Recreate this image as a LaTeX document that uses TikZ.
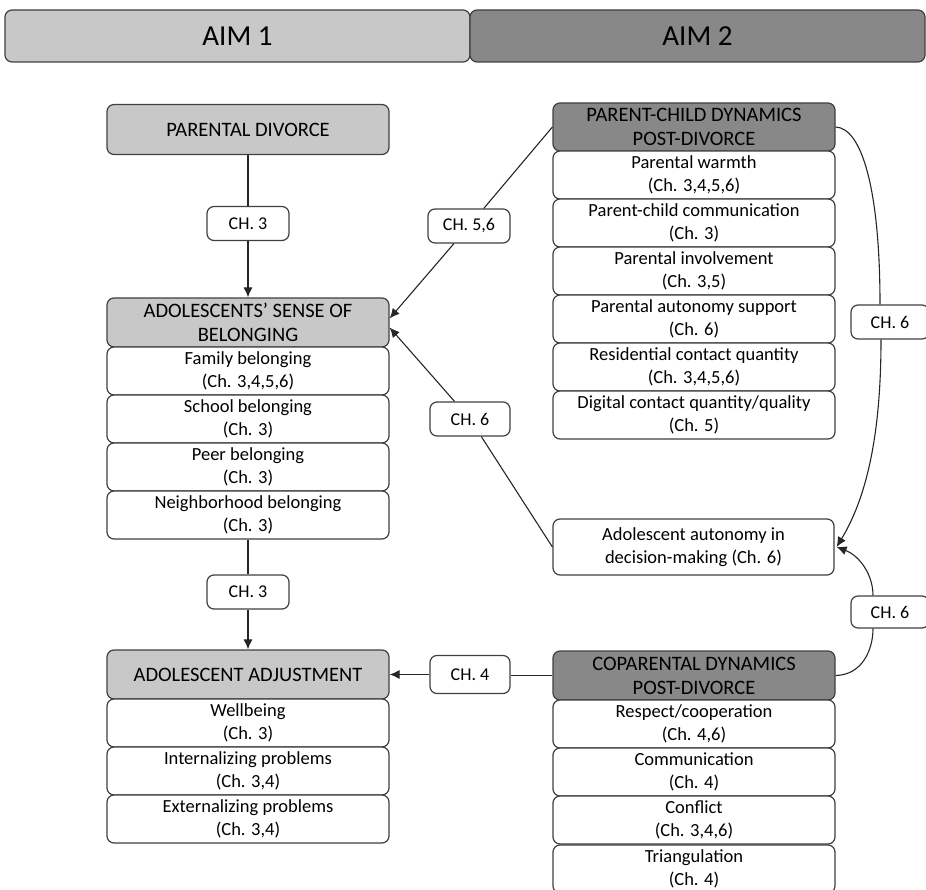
\documentclass[tikz,border=0pt]{standalone}
\usepackage{fontspec}
\setmainfont{Carlito}
\usetikzlibrary{arrows.meta}
\definecolor{boxline}{HTML}{404040}
\definecolor{aimlight}{HTML}{C8C8C8}
\definecolor{aimdark}{HTML}{888888}

\begin{document}
\begin{tikzpicture}[x=1pt, y=-1pt,
	box/.style={draw=boxline, line width=1.2pt, rounded corners=7pt, align=center, inner sep=0pt},
	aimbox/.style={box, minimum height=52pt, font=\fontsize{29}{34}\selectfont},
	headbox/.style={box, minimum width=282pt, font=\fontsize{20.5}{24}\selectfont},
	subbox/.style={box, fill=white, minimum width=282pt, minimum height=48pt, font=\fontsize{18.5}{23}\selectfont},
	chbox/.style={box, fill=white, minimum width=82pt, minimum height=34pt, font=\fontsize{18}{22}\selectfont},
	link/.style={line width=1.1pt, draw=black!85},
	arrowlink/.style={link, -{Latex[length=10pt,width=9pt]}}]
			%%%%% START %%%%%
			
			\useasboundingbox (0, 0) rectangle (926, 890);
			
			\node[aimbox, fill=aimlight, minimum width=465pt] (aim1) at (237.5, 36) {AIM 1};
			\node[aimbox, fill=aimdark, minimum width=455pt] (aim2) at (697.5, 36) {AIM 2};
			
			% aim 1 column
			\node[headbox, fill=aimlight, minimum height=50pt] (divorce) at (248, 129.5) {PARENTAL DIVORCE};
			\node[chbox] (ch3a) at (248, 223.5) {CH. 3};
			
			\node[headbox, fill=aimlight, minimum height=49pt] (belong) at (248, 322.5) {ADOLESCENTS’ SENSE OF\\BELONGING};
			\node[subbox] (famb) at (248, 371) {Family belonging\\(Ch. 3,4,5,6)};
			\node[subbox] (schb) at (248, 419) {School belonging\\(Ch. 3)};
			\node[subbox] (peerb) at (248, 467) {Peer belonging\\(Ch. 3)};
			\node[subbox] (neighb) at (248, 515) {Neighborhood belonging\\(Ch. 3)};
			\node[chbox] (ch3b) at (248, 592) {CH. 3};
			
			\node[headbox, fill=aimlight, minimum height=49pt] (adjust) at (248, 674.5) {ADOLESCENT ADJUSTMENT};
			\node[subbox] (wellb) at (248, 723) {Wellbeing\\(Ch. 3)};
			\node[subbox] (intern) at (248, 771) {Internalizing problems\\(Ch. 3,4)};
			\node[subbox] (extern) at (248, 819) {Externalizing problems\\(Ch. 3,4)};
			
			% middle labels
			\node[chbox] (ch56) at (469, 226) {CH. 5,6};
			\node[chbox, minimum width=80pt] (ch6m) at (470, 419) {CH. 6};
			\node[chbox, minimum width=80pt, minimum height=38pt] (ch4) at (470, 674.5) {CH. 4};
			
			% aim 2 column
			\node[headbox, fill=aimdark, minimum height=48pt] (pcdyn) at (694, 127) {PARENT-CHILD DYNAMICS\\POST-DIVORCE};
			\node[subbox] (warmth) at (694, 175) {Parental warmth\\(Ch. 3,4,5,6)};
			\node[subbox] (pccomm) at (694, 223) {Parent-child communication\\(Ch. 3)};
			\node[subbox] (involve) at (694, 271) {Parental involvement\\(Ch. 3,5)};
			\node[subbox] (autsup) at (694, 319) {Parental autonomy support\\(Ch. 6)};
			\node[subbox] (rescont) at (694, 367) {Residential contact quantity\\(Ch. 3,4,5,6)};
			\node[subbox] (digcont) at (694, 415) {Digital contact quantity/quality\\(Ch. 5)};
			
			\node[subbox, minimum width=281pt, minimum height=56pt] (autonomy) at (693.5, 547) {Adolescent autonomy in\\decision-making (Ch. 6)};
			
			\node[headbox, fill=aimdark, minimum height=49pt] (copar) at (694, 675.5) {COPARENTAL DYNAMICS\\POST-DIVORCE};
			\node[subbox] (respect) at (694, 724) {Respect/cooperation\\(Ch. 4,6)};
			\node[subbox] (cpcomm) at (694, 772) {Communication\\(Ch. 4)};
			\node[subbox] (conflict) at (694, 820) {Conflict\\(Ch. 3,4,6)};
			\node[subbox] (triang) at (694, 869) {Triangulation\\(Ch. 4)};
			
			\node[chbox, minimum width=78pt] (ch6r1) at (890, 322) {CH. 6};
			\node[chbox, minimum width=78pt, minimum height=32pt] (ch6r2) at (890, 612) {CH. 6};
			
			% connectors
			\draw[link] (divorce) -- (ch3a);
			\draw[arrowlink] (ch3a) -- (belong);
			\draw[link] (neighb) -- (ch3b);
			\draw[arrowlink] (ch3b) -- (adjust);
			
			\draw[link] (pcdyn.west) -- (ch56);
			\draw[arrowlink] (ch56) -- ([yshift=4pt]belong.east);
			\draw[link] (autonomy.west) -- (ch6m);
			\draw[arrowlink] (ch6m) -- ([yshift=-5pt]belong.east);
			
			\draw[link] (copar.west) -- (ch4.east |- copar.west);
			\draw[arrowlink] (ch4) -- (adjust);
			
			\draw[link] (pcdyn.east) .. controls (862, 128) and (880, 190) .. ([xshift=-10pt]ch6r1.north);
			\draw[arrowlink] ([xshift=-9pt]ch6r1.south) .. controls (881, 440) and (865, 500) .. ([xshift=2pt]autonomy.east);
			\draw[link] (copar.east) .. controls (862, 675) and (873, 650) .. ([xshift=-17pt]ch6r2.south);
			\draw[arrowlink] ([xshift=-17pt]ch6r2.north) .. controls (873, 575) and (860, 556) .. ([xshift=2pt]autonomy.east);
			
			%%%%% END %%%%%
		\end{tikzpicture}
\end{document}
